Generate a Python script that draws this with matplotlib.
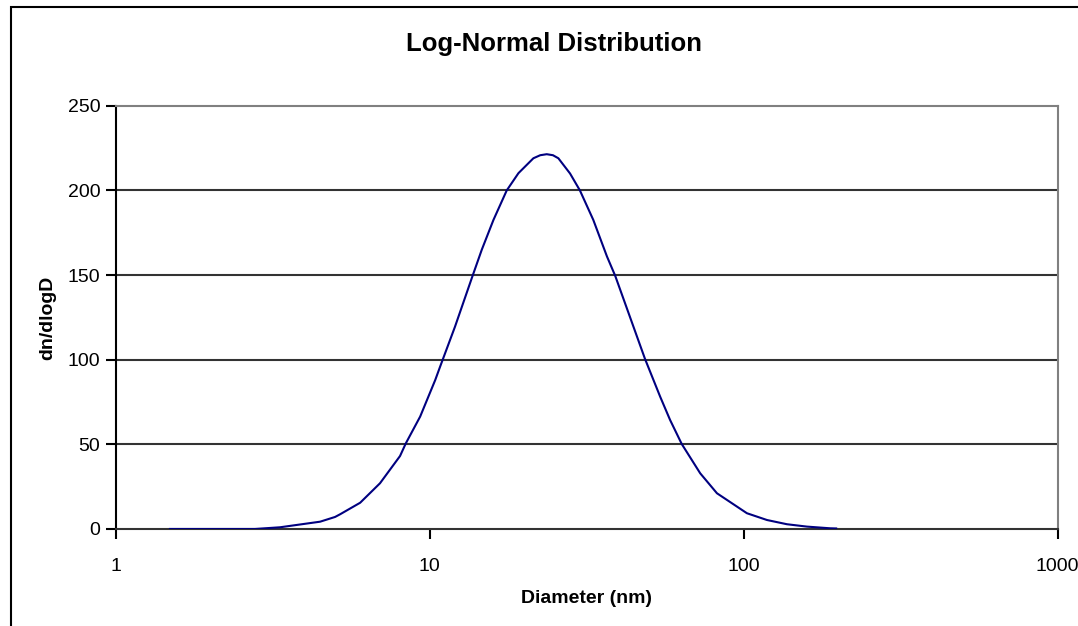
import matplotlib
matplotlib.use("Agg")
import matplotlib.pyplot as plt
from matplotlib.patches import Rectangle

# values
diameter = [1.49, 2.78, 3.34, 4.48, 5.00, 5.19, 6.01, 6.95, 8.05, 8.40, 9.33,
            10.42, 10.80, 12.05, 13.7, 14.66, 15.97, 17.6, 19.18, 21.4, 22.5,
            23.6, 24.7, 25.7, 28.0, 30.1, 33.2, 36.7, 39.0, 48.5, 54.2, 58.3,
            63.5, 72.7, 82.2, 102.4, 118.6, 137.3, 158.9, 188.5, 197.0]
dn_dlogd = [0.0, 0.0, 1.0, 4.3, 7.1, 8.7, 15.5, 27.0, 43.1, 50.6, 66.4,
            88.0, 95.9, 119.6, 149.5, 165.0, 182.6, 200.0, 210.2, 219.0, 220.8,
            221.4, 220.8, 219.0, 210.0, 200.0, 182.6, 161.0, 149.5, 100.5, 78.2,
            64.4, 50.2, 32.9, 21.1, 9.3, 5.3, 2.8, 1.4, 0.4, 0.3]

x_ticks = [1, 10, 100, 1000]
x_tick_labels = ['1', '10', '100', '1000']
y_ticks = [0, 50, 100, 150, 200, 250]

plt.rcParams['font.family'] = ['Liberation Sans', 'DejaVu Sans']

fig = plt.figure(figsize=(10.78, 6.26), dpi=100)
ax = fig.add_axes([0.1072, 0.155, 0.874, 0.676])

ax.plot(diameter, dn_dlogd, color='#000080', lw=1.5, zorder=3)

ax.set_xscale('log')
ax.set_xlim(1, 1000)
ax.set_ylim(0, 250)
ax.set_xticks(x_ticks)
ax.set_xticklabels(x_tick_labels)
ax.minorticks_off()
ax.set_yticks(y_ticks)

for v in y_ticks[1:-1]:
    ax.axhline(v, color='#333333', lw=1.5, zorder=1)

ax.spines['top'].set_color('#808080')
ax.spines['right'].set_color('#808080')
ax.spines['left'].set_color('black')
ax.spines['bottom'].set_color('#333333')
for s in ax.spines.values():
    s.set_linewidth(1.5)

ax.tick_params(axis='both', direction='out', length=7, width=1.5,
               labelsize=14, colors='black')
ax.tick_params(axis='y', pad=4)
ax.tick_params(axis='x', pad=14)

# chart title is centred on the whole chart area, not the plot area
fig.text(0.514, 0.9185, 'Log-Normal Distribution', fontsize=18.5,
         fontweight='bold', ha='center', va='baseline')
ax.set_xlabel('Diameter (nm)', fontsize=14, fontweight='bold', labelpad=10.5)
ax.set_ylabel('dn/dlogD', fontsize=14, fontweight='bold', labelpad=8)

fig.patches.append(Rectangle((0.0102, -0.2), 1.2, 1.189, transform=fig.transFigure,
                             fill=False, edgecolor='black', lw=1.5, clip_on=False))

fig.savefig('out.png', dpi=100)
